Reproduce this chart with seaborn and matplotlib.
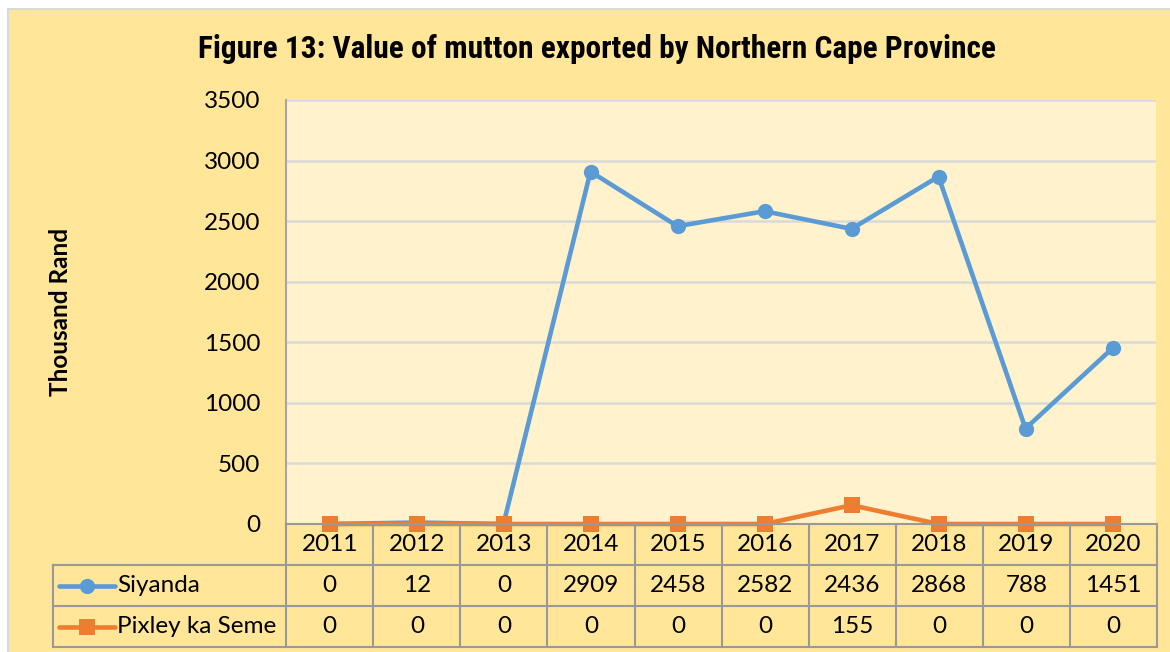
import matplotlib.pyplot as plt
import matplotlib.patches as mpatches
import pandas as pd
import seaborn as sns

# Data
years = ["2011", "2012", "2013", "2014", "2015", "2016", "2017", "2018", "2019", "2020"]
siyanda = [0, 12, 0, 2909, 2458, 2582, 2436, 2868, 788, 1451]
pixley = [0, 0, 0, 0, 0, 0, 155, 0, 0, 0]
series_names = ["Siyanda", "Pixley ka Seme"]
y_ticks = [0, 500, 1000, 1500, 2000, 2500, 3000, 3500]

colors = {"Siyanda": "#5B9BD5", "Pixley ka Seme": "#ED7D31"}
markers = {"Siyanda": "o", "Pixley ka Seme": "s"}

df = pd.DataFrame({"pos": range(len(years)), "Siyanda": siyanda, "Pixley ka Seme": pixley})
long_df = df.melt(id_vars="pos", var_name="region", value_name="value")

sns.set_style("white")
plt.rcParams["font.family"] = ["Lato", "DejaVu Sans"]
plt.rcParams["text.color"] = "black"
plt.rcParams["ytick.color"] = "black"

W, H = 1170, 652
fig = plt.figure(figsize=(W / 100, H / 100), dpi=100)
fig.patch.set_facecolor("white")

# outer chart area (yellow box with thin grey border)
fig.patches.append(mpatches.Rectangle((8 / W, -0.01), 1.0, 1 - 9 / H + 0.01,
                                      transform=fig.transFigure, facecolor="#FFE699",
                                      edgecolor="#D9D9D9", lw=1.5, zorder=-10))

# plot area
ax = fig.add_axes([286 / W, 1 - 524 / H, 870 / W, 424 / H])
ax.set_facecolor("#FFF2CC")
sns.lineplot(data=long_df, x="pos", y="value", hue="region", style="region",
             hue_order=series_names, style_order=series_names,
             palette=colors, markers=markers, dashes=False,
             linewidth=3.3, markersize=11, markeredgewidth=0, legend=False, ax=ax)
for line in ax.lines:
    line.set_clip_on(False)

ax.set_xlim(-0.5, len(years) - 0.5)
ax.set_ylim(0, 3500)
ax.set_xticks([])
ax.set_yticks(y_ticks)
ax.set_yticklabels([str(t) for t in y_ticks])
ax.tick_params(axis="y", length=0, pad=18.5, labelsize=17.5)
ax.yaxis.grid(True, color="#D9D9D9", lw=1.8)
ax.set_axisbelow(True)
ax.set_xlabel("")
ax.set_ylabel("")
for s in ["top", "right"]:
    ax.spines[s].set_visible(False)
ax.spines["left"].set_color("#A6A6A6")
ax.spines["left"].set_linewidth(1.5)
ax.spines["bottom"].set_color("#999999")
ax.spines["bottom"].set_linewidth(1.5)

fig.text(60 / W, 1 - 312 / H, "Thousand Rand", rotation=90, fontsize=17.5,
         fontweight="bold", ha="center", va="center")
fig.text(597 / W, 1 - 49 / H, "Figure 13: Value of mutton exported by Northern Cape Province",
         fontsize=22.6, fontweight="bold", ha="center", va="center", fontstretch="condensed",
         family=["Liberation Sans Narrow", "Roboto Condensed", "DejaVu Sans"])

# data table under the plot
col_px = 87.0
leg_w = (286 - 53) / col_px
left = -0.5 - leg_w
tab = fig.add_axes([53 / W, 1 - 647 / H, (1157 - 53) / W, (647 - 524) / H])
tab.set_xlim(left, len(years) - 0.5)
tab.set_ylim(3, 0)
tab.axis("off")

grid_kw = dict(color="#999999", lw=1.5, clip_on=False, solid_capstyle="projecting")
for i in range(len(years) + 1):
    tab.plot([i - 0.5, i - 0.5], [0, 3], **grid_kw)
for r in [1, 2, 3]:
    tab.plot([left, len(years) - 0.5], [r, r], **grid_kw)
tab.plot([left, left], [1, 3], **grid_kw)

for i, yr in enumerate(years):
    tab.text(i, 0.5, yr, ha="center", va="center", fontsize=17.5)
for r, (name, vals) in enumerate(zip(series_names, [siyanda, pixley]), start=1):
    for i, v in enumerate(vals):
        tab.text(i, r + 0.5, str(v), ha="center", va="center", fontsize=17.5)
    x0 = left + (59 - 53) / col_px
    x1 = left + (115 - 53) / col_px
    tab.plot([x0, x1], [r + 0.5, r + 0.5], color=colors[name], lw=3.3,
             solid_capstyle="round", clip_on=False)
    tab.plot([(x0 + x1) / 2], [r + 0.5], marker=markers[name], color=colors[name],
             markersize=11, markeredgewidth=0, clip_on=False)
    tab.text(left + (117 - 53) / col_px, r + 0.5, name, ha="left", va="center", fontsize=17.5)

fig.savefig("out.png", dpi=100, facecolor=fig.get_facecolor())
